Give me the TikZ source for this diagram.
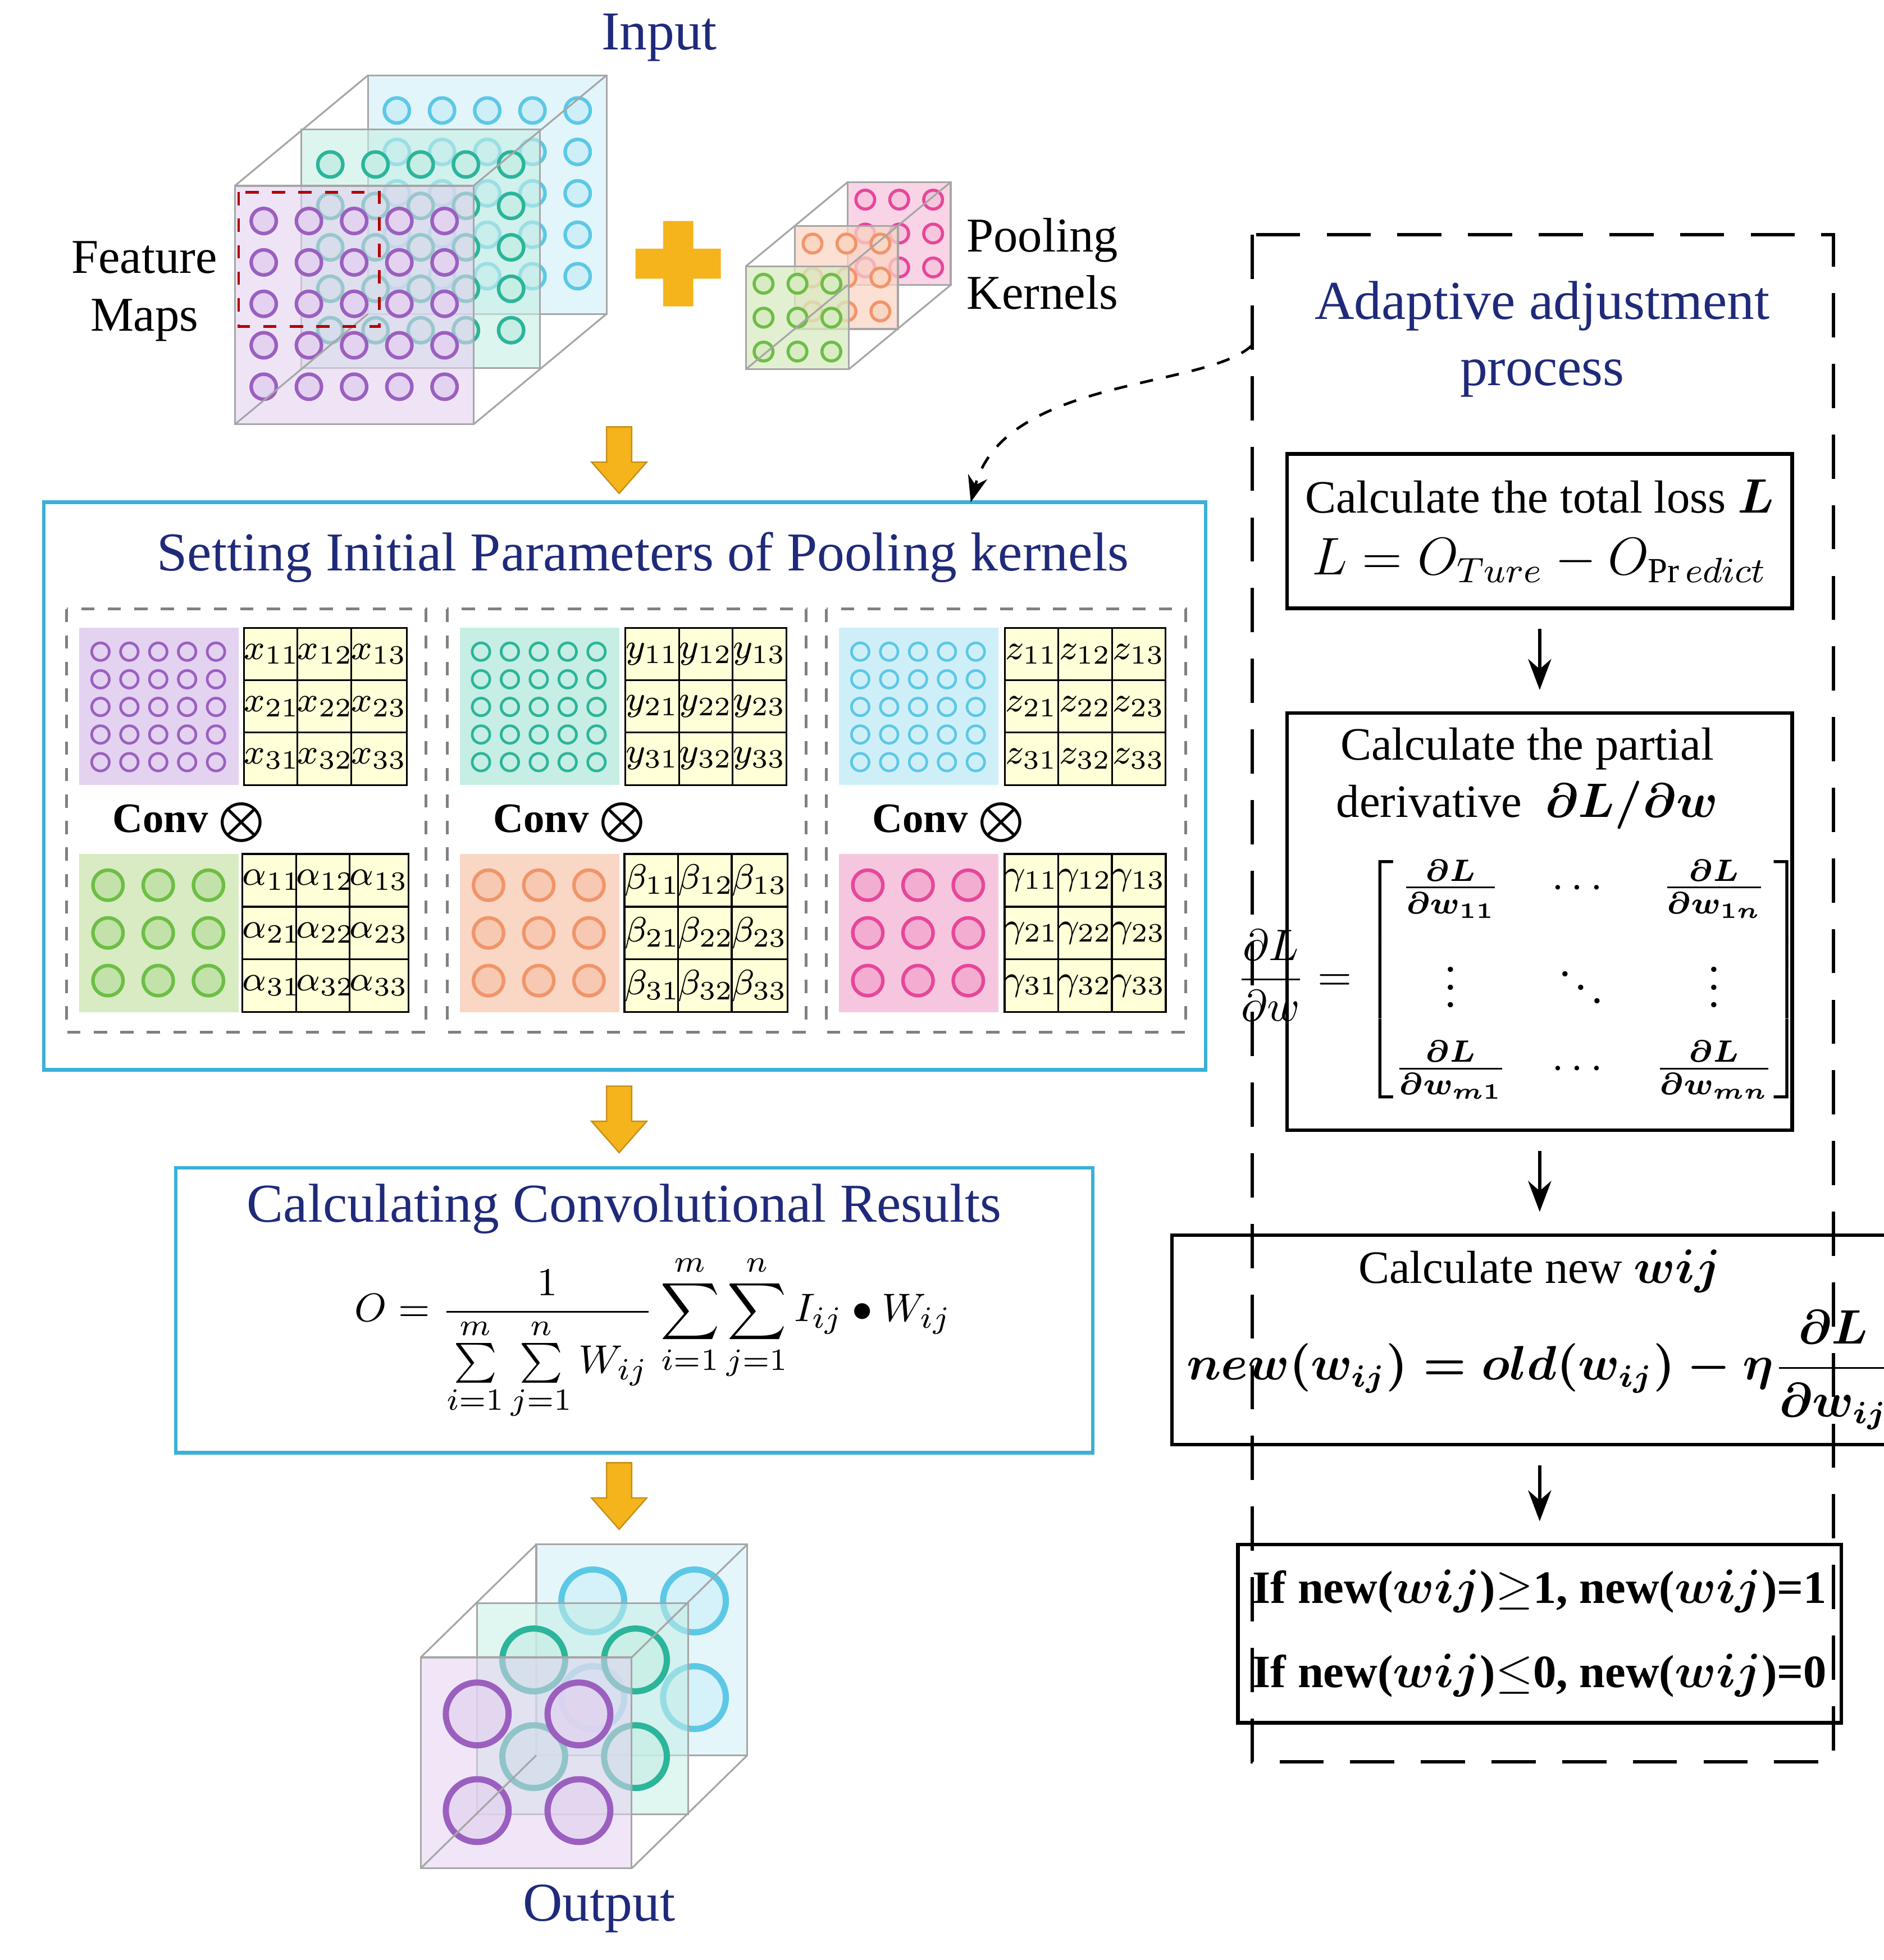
\documentclass[tikz,border=0pt]{standalone}
\usepackage{amsmath}
\usepackage{fontspec}
\setmainfont{Liberation Serif}
\usetikzlibrary{positioning,arrows.meta}
\definecolor{navy}{HTML}{1F2A7A}
\definecolor{boxblue}{HTML}{3BB0D8}
\definecolor{arrorange}{HTML}{F5B31C}
\definecolor{cellfill}{HTML}{FFFFD8}
\definecolor{purF}{HTML}{E3D2F0}\definecolor{purS}{HTML}{9B5FC0}
\definecolor{teaF}{HTML}{C6EEE4}\definecolor{teaS}{HTML}{2BB59A}
\definecolor{cyaF}{HTML}{CFEFF8}\definecolor{cyaS}{HTML}{5CC8E6}
\definecolor{greF}{HTML}{D8EBC2}\definecolor{greS}{HTML}{6DBE45}
\definecolor{oraF}{HTML}{FAD6C4}\definecolor{oraS}{HTML}{F0956A}
\definecolor{pinF}{HTML}{F6C6DE}\definecolor{pinS}{HTML}{E6479A}
\tikzset{
  title/.style = {text=navy, font=\fontsize{12.4}{15}\selectfont},
  label/.style = {font=\fontsize{11}{13}\selectfont, align=center},
  edge/.style = {draw=gray!70, line width=0.4pt},
  bluebox/.style = {draw=boxblue, line width=0.8pt},
  stepbox/.style = {draw, line width=0.8pt, align=center, font=\fontsize{10.5}{13}\selectfont},
  panel/.style = {draw=gray, dashed, line width=0.6pt},
  cell/.style = {draw, fill=cellfill, minimum width=0.427cm, minimum height=0.417cm, inner sep=0pt, font=\fontsize{8}{8}\selectfont},
  bigarrow/.style = {fill=arrorange, draw=arrorange!80!black, line width=0.3pt},
  nextstep/.style = {-{Stealth[length=7pt]}, line width=0.7pt}
}
\begin{document}
\begin{tikzpicture}[x=0.01cm, y=-0.01cm]
\useasboundingbox (0,0) rectangle (1500,1561);
% Input cube
\node[title] (input) at (525,30) {Input};
\foreach \ox/\oy/\cf/\cs in {293/60/cyaF/cyaS, 240/103/teaF/teaS, 187/148/purF/purS}{
  \fill[\cf, opacity=0.6] (\ox,\oy) rectangle ++(190,190);
  \draw[edge] (\ox,\oy) rectangle ++(190,190);
  \foreach \i in {0,...,4}\foreach \j in {0,...,4}
    \draw[\cs, line width=0.8pt, fill=\cf] (\ox+23+36*\i,\oy+28+33*\j) circle (10);
}
\draw[edge] (187,148) -- (293,60) (377,148) -- (483,60) (187,338) -- (293,250) (377,338) -- (483,250);
\draw[red!70!black, dashed, line width=0.6pt] (190,153) rectangle (302,260);
\node[label] (fmaps) at (115,232) {Feature\\Maps};
% plus
\fill[arrorange] (506,198) rectangle (574,222) (528,176) rectangle (552,244);
% pooling kernels
\foreach \ox/\oy/\cf/\cs in {675/145/pinF/pinS, 633/180/oraF/oraS, 594/212/greF/greS}{
  \fill[\cf, opacity=0.75] (\ox,\oy) rectangle ++(82,82);
  \draw[edge] (\ox,\oy) rectangle ++(82,82);
  \foreach \i in {0,...,2}\foreach \j in {0,...,2}
    \draw[\cs, line width=0.7pt, fill=\cf] (\ox+14+27*\i,\oy+14+27*\j) circle (7.5);
}
\draw[edge] (594,212) -- (675,145) (676,212) -- (757,145) (594,294) -- (675,227) (676,294) -- (757,227);
\node[label] (pkern) at (830,210) {Pooling\\Kernels};
% big arrows
\foreach \ay/\nm in {340/a1, 865/a2, 1165/a3}{
  \draw[bigarrow] (483,\ay) -- (503,\ay) -- (503,\ay+28) -- (515,\ay+28) -- (493,\ay+53) -- (471,\ay+28) -- (483,\ay+28) -- cycle;
}
% setting box
\draw[bluebox] (35,400) rectangle (960,852);
\node[title] (setting) at (512,444) {Setting Initial Parameters of Pooling kernels};
\foreach \k/\dx/\lt/\gr/\cf/\cs/\gf/\gs in {0/0/x/\alpha/purF/purS/greF/greS, 1/303/y/\beta/teaF/teaS/oraF/oraS, 2/605/z/\gamma/cyaF/cyaS/pinF/pinS}{
  \draw[panel] (53+\dx,485) rectangle (339+\dx,822);
  \fill[\cf] (63+\dx,500) rectangle (190+\dx,625);
  \foreach \i in {0,...,4}\foreach \j in {0,...,4}
    \draw[\cs, line width=0.6pt] (80+\dx+23*\i,519+22*\j) circle (7);
  \fill[\gf] (63+\dx,680) rectangle (190+\dx,806);
  \foreach \i in {0,...,2}\foreach \j in {0,...,2}
    \draw[\gs, line width=0.8pt, fill=\gf!80!\gs] (86+\dx+40*\i,705+38*\j) circle (12);
  \foreach \r in {1,2,3}\foreach \c in {1,2,3}{
    \node[cell] (m\k\r\c) at (195+\dx+42.7*\c-21.3,500+41.7*\r-20.8) {$\lt_{\r\c}$};
    \node[cell] (w\k\r\c) at (195+\dx+42.7*\c-21.3,680+42*\r-21) {$\gr_{\r\c}$};
  }
  \node[font=\bfseries\fontsize{9.5}{11}\selectfont] (conv\k) at (150+\dx,655) {Conv $\bigotimes$};
}
% convolution box
\draw[bluebox] (140,930) rectangle (870,1157);
\node[title] (calc) at (497,963) {Calculating Convolutional Results};
\node[font=\fontsize{9.5}{11}\selectfont] (formula) at (520,1065)
  {$\displaystyle O=\frac{1}{\sum\limits_{i=1}^{m}\sum\limits_{j=1}^{n}W_{ij}}\sum_{i=1}^{m}\sum_{j=1}^{n}I_{ij}\bullet W_{ij}$};
% output cube
\foreach \ox/\oy/\cf/\cs in {427/1230/cyaF/cyaS, 380/1277/teaF/teaS, 335/1320/purF/purS}{
  \fill[\cf, opacity=0.55] (\ox,\oy) rectangle ++(168,168);
  \draw[edge] (\ox,\oy) rectangle ++(168,168);
  \foreach \i in {0,1}\foreach \j in {0,1}
    \draw[\cs, line width=1.4pt, fill=\cf, fill opacity=0.7] (\ox+45+81*\i,\oy+45+77*\j) circle (25);
}
\draw[edge] (335,1320) -- (427,1230) (503,1320) -- (595,1230) (335,1488) -- (427,1398) (503,1488) -- (595,1398);
\node[title] (output) at (477,1520) {Output};
% adaptive process
\draw[dashed, line width=0.8pt, dash pattern=on 10pt off 6pt] (997,187) rectangle (1460,1403);
\node[title, align=center] (adapt) at (1228,270) {Adaptive adjustment\\process};
\coordinate (dstart) at (997,275);
\coordinate (dend) at (773,400);
\draw[dashed, -{Stealth[length=6pt]}, line width=0.6pt] (dstart) .. controls (960,310) and (800,300) .. (dend);
\node[stepbox, minimum width=4.02cm, minimum height=1.23cm] (loss) at (1226,423)
  {Calculate the total loss $\boldsymbol{L}$\\[1pt] \fontsize{12}{14}\selectfont $L=O_{Ture}-O_{\mathrm{Pr}\,edict}$};
\node[stepbox, minimum width=4.02cm, minimum height=3.32cm] (deriv) at (1226,734) {};
\node[font=\fontsize{10.5}{13}\selectfont, align=center] (derivt) at (1216,620) {Calculate the partial\\derivative \ $\boldsymbol{\partial L/\partial w}$};
\node[font=\fontsize{10}{12}\selectfont] (derivm) at (1210,780)
  {$\displaystyle \frac{\partial L}{\partial w}=\begin{bmatrix}\frac{\boldsymbol{\partial L}}{\boldsymbol{\partial w_{11}}} & \cdots & \frac{\boldsymbol{\partial L}}{\boldsymbol{\partial w_{1n}}}\\[6pt] \vdots & \ddots & \vdots\\[4pt] \frac{\boldsymbol{\partial L}}{\boldsymbol{\partial w_{m1}}} & \cdots & \frac{\boldsymbol{\partial L}}{\boldsymbol{\partial w_{mn}}}\end{bmatrix}$};
\node[stepbox, minimum width=4.02cm, minimum height=1.65cm] (neww) at (1226,1067)
  {Calculate new $\boldsymbol{wij}$\\[3pt] $\boldsymbol{new(w_{ij})=old(w_{ij})-\eta\dfrac{\partial L}{\partial w_{ij}}}$};
\node[stepbox, minimum width=4.02cm, minimum height=1.42cm, font=\bfseries\fontsize{10.5}{19}\selectfont] (clip) at (1226,1301)
  {If new($\boldsymbol{wij}$)$\geq$1, new($\boldsymbol{wij}$)=1\\If new($\boldsymbol{wij}$)$\leq$0, new($\boldsymbol{wij}$)=0};
\draw[nextstep] ([yshift=-0.15cm]loss.south) -- ([yshift=0.17cm]deriv.north);
\draw[nextstep] ([yshift=-0.15cm]deriv.south) -- ([yshift=0.17cm]neww.north);
\draw[nextstep] ([yshift=-0.15cm]neww.south) -- ([yshift=0.17cm]clip.north);
\end{tikzpicture}
\end{document}
